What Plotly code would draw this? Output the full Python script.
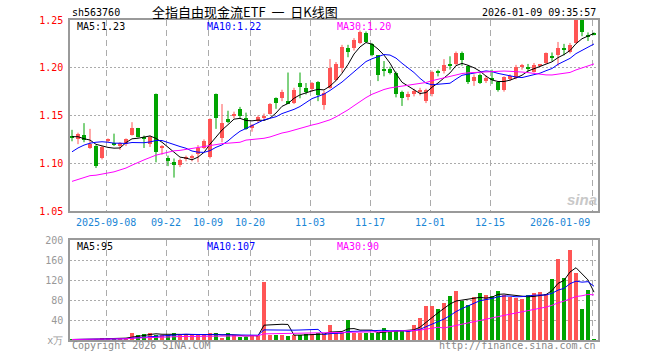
import numpy as np
import pandas as pd
import plotly.graph_objects as go

# ---------------- data ----------------
holidays = ["2025-10-01", "2025-10-02", "2025-10-03", "2025-10-06", "2025-10-07",
            "2025-10-08", "2026-01-01", "2026-01-02"]
dates = [d.strftime("%Y-%m-%d") for d in pd.bdate_range("2025-08-29", "2026-01-09")
         if d.strftime("%Y-%m-%d") not in holidays]

opens = [1.128, 1.125, 1.130, 1.116, 1.118, 1.106, 1.124, 1.121, 1.118, 1.120,
         1.130, 1.137, 1.128, 1.120, 1.173, 1.116, 1.106, 1.101, 1.098, 1.104,
         1.105, 1.110, 1.116, 1.107, 1.172, 1.126, 1.146, 1.149, 1.157, 1.147,
         1.137, 1.144, 1.147, 1.152, 1.168, 1.168, 1.165, 1.163, 1.184, 1.179,
         1.178, 1.185, 1.161, 1.179, 1.187, 1.200, 1.221, 1.221, 1.226, 1.236,
         1.225, 1.213, 1.198, 1.199, 1.195, 1.175, 1.169, 1.173, 1.175, 1.165,
         1.172, 1.197, 1.197, 1.203, 1.204, 1.215, 1.202, 1.186, 1.192, 1.187,
         1.189, 1.185, 1.177, 1.189, 1.189, 1.201, 1.201, 1.196, 1.202, 1.205,
         1.212, 1.213, 1.220, 1.216, 1.226, 1.250, 1.234, 1.236]
highs = [1.135, 1.132, 1.142, 1.136, 1.119, 1.118, 1.126, 1.131, 1.122, 1.126,
         1.143, 1.137, 1.129, 1.129, 1.173, 1.119, 1.108, 1.105, 1.105, 1.108,
         1.109, 1.119, 1.125, 1.147, 1.173, 1.162, 1.155, 1.154, 1.159, 1.153,
         1.141, 1.150, 1.152, 1.163, 1.169, 1.177, 1.195, 1.179, 1.195, 1.184,
         1.185, 1.186, 1.176, 1.209, 1.206, 1.224, 1.224, 1.231, 1.239, 1.238,
         1.226, 1.213, 1.207, 1.201, 1.196, 1.176, 1.175, 1.178, 1.179, 1.178,
         1.197, 1.198, 1.209, 1.212, 1.217, 1.217, 1.203, 1.193, 1.194, 1.192,
         1.198, 1.186, 1.191, 1.193, 1.203, 1.204, 1.204, 1.205, 1.204, 1.216,
         1.216, 1.227, 1.225, 1.226, 1.256, 1.252, 1.237, 1.237]
lows = [1.123, 1.120, 1.122, 1.115, 1.095, 1.104, 1.122, 1.118, 1.114, 1.118,
        1.129, 1.127, 1.116, 1.117, 1.101, 1.109, 1.097, 1.085, 1.096, 1.102,
        1.102, 1.101, 1.115, 1.105, 1.136, 1.122, 1.142, 1.147, 1.147, 1.135,
        1.133, 1.142, 1.145, 1.151, 1.157, 1.165, 1.162, 1.162, 1.168, 1.172,
        1.175, 1.165, 1.156, 1.178, 1.186, 1.195, 1.211, 1.218, 1.225, 1.226,
        1.212, 1.186, 1.191, 1.193, 1.169, 1.160, 1.166, 1.170, 1.171, 1.163,
        1.170, 1.191, 1.194, 1.198, 1.202, 1.202, 1.183, 1.181, 1.183, 1.184,
        1.183, 1.175, 1.175, 1.186, 1.188, 1.198, 1.196, 1.195, 1.201, 1.204,
        1.207, 1.202, 1.213, 1.215, 1.225, 1.233, 1.228, 1.234]
closes = [1.127, 1.131, 1.124, 1.120, 1.097, 1.117, 1.125, 1.120, 1.121, 1.125,
          1.137, 1.128, 1.125, 1.128, 1.112, 1.117, 1.102, 1.098, 1.103, 1.107,
          1.108, 1.116, 1.123, 1.146, 1.147, 1.142, 1.144, 1.152, 1.150, 1.136,
          1.140, 1.148, 1.150, 1.162, 1.163, 1.175, 1.163, 1.177, 1.180, 1.175,
          1.184, 1.171, 1.174, 1.200, 1.204, 1.222, 1.217, 1.229, 1.237, 1.227,
          1.213, 1.192, 1.197, 1.195, 1.172, 1.168, 1.173, 1.176, 1.176, 1.177,
          1.196, 1.195, 1.203, 1.202, 1.215, 1.208, 1.185, 1.190, 1.184, 1.189,
          1.188, 1.177, 1.190, 1.191, 1.201, 1.202, 1.199, 1.203, 1.203, 1.215,
          1.211, 1.221, 1.219, 1.224, 1.251, 1.237, 1.233, 1.235]
volumes = [1, 1, 1.5, 1, 1.5, 4.7, 4.7, 1.5, 4.7, 3,
           14.7, 10.7, 12, 14.7, 10, 10, 10, 14, 10, 10,
           10, 10, 10, 14, 14, 2.7, 13.3, 10, 6.7, 6.7,
           8, 10, 116.7, 10, 10.7, 10, 8, 10, 10, 12,
           12, 13.3, 12, 30, 14.7, 14.7, 40, 14.7, 14.7, 14.7,
           14.7, 13.3, 24, 18, 18, 18, 18, 30, 44, 68,
           68, 62, 74, 88, 98, 78.7, 70, 86, 94, 90,
           88, 98, 90, 86, 84, 82, 90, 94, 96, 92,
           122, 162, 124, 180, 134.7, 62, 100, 2]

ma5_lead = [1.1278, 1.1278, 1.1257, 1.1243]
ma10_lead = [1.112, 1.116, 1.119, 1.121, 1.122, 1.1225, 1.122, 1.121, 1.121]
ma30_lead = [1.081, 1.083, 1.085, 1.087, 1.0875, 1.0885, 1.0895, 1.091, 1.093, 1.095,
             1.098, 1.101, 1.1035, 1.106, 1.1085, 1.110, 1.1115, 1.113, 1.1135, 1.1145,
             1.1155, 1.1165, 1.1175, 1.119, 1.120, 1.1205, 1.121, 1.1215, 1.122]

tick_dates = ["2025-09-08", "2025-09-22", "2025-10-09", "2025-10-20", "2025-11-03",
              "2025-11-17", "2025-12-01", "2025-12-15", "2026-01-09"]
tick_labels = ["2025-09-08", "09-22", "10-09", "10-20", "11-03", "11-17",
               "12-01", "12-15", "2026-01-09"]
price_ticks = [1.05, 1.10, 1.15, 1.20, 1.25]
vol_ticks = [0, 40, 80, 120, 160, 200]
vol_tick_labels = ["x万", "40", "80", "120", "160", "200"]

header_code = "sh563760"
header_title = "全指自由现金流ETF 一 日K线图"
header_time = "2026-01-09 09:35:57"
price_ma_labels = ["MA5:1.23", "MA10:1.22", "MA30:1.20"]
vol_ma_labels = ["MA5:95", "MA10:107", "MA30:90"]

# ---------------- styles ----------------
RED = "#ff5555"
GREEN = "#00a400"
MA_COLORS = ["#000000", "#0000ff", "#ff00ff"]
MONO = "DejaVu Sans Mono"
W, H = 660, 360
L, R, T, B = 70, 62, 20, 20
PW, PH = W - L - R, H - T - B


def px(xp):
    return (xp - L) / PW


def py(yp):
    return (H - B - yp) / PH


n = len(dates)
x = np.arange(n)
o = np.array(opens); c = np.array(closes); hi = np.array(highs); lo = np.array(lows)
up = c >= o
colors = [RED if u else GREEN for u in up]

cs = pd.Series(closes)
ma5 = cs.rolling(5).mean().to_numpy(); ma5[:4] = ma5_lead
ma10 = cs.rolling(10).mean().to_numpy(); ma10[:9] = ma10_lead
ma30 = cs.rolling(30).mean().to_numpy(); ma30[:29] = ma30_lead

vs = pd.Series(volumes)
vma = [vs.rolling(k, min_periods=1).mean().to_numpy() for k in (5, 10, 30)]

fig = go.Figure()

# candle bodies
body_base = np.minimum(o, c)
body_h = np.maximum(np.abs(c - o), 0.0011)
fig.add_trace(go.Bar(x=x, y=body_h, base=body_base, width=0.8,
                     marker=dict(color=colors, line=dict(width=0)),
                     xaxis="x", yaxis="y", hoverinfo="skip"))
# wicks
for flag, col in ((True, RED), (False, GREEN)):
    wx, wy = [], []
    for i in range(n):
        if up[i] == flag:
            wx += [x[i], x[i], None]
            wy += [lo[i], hi[i], None]
    fig.add_trace(go.Scatter(x=wx, y=wy, mode="lines", line=dict(color=col, width=1),
                             xaxis="x", yaxis="y", hoverinfo="skip"))
# price MAs
for arr, col in zip((ma5, ma10, ma30), MA_COLORS):
    fig.add_trace(go.Scatter(x=x, y=arr, mode="lines", line=dict(color=col, width=1),
                             xaxis="x", yaxis="y", hoverinfo="skip"))

# volume
fig.add_trace(go.Bar(x=x, y=volumes, width=0.78,
                     marker=dict(color=colors, line=dict(width=0)),
                     xaxis="x2", yaxis="y2", hoverinfo="skip"))
for arr, col in zip(vma, MA_COLORS):
    fig.add_trace(go.Scatter(x=x, y=arr, mode="lines", line=dict(color=col, width=1),
                             xaxis="x2", yaxis="y2", hoverinfo="skip"))

grid_pos = [dates.index(d) - 0.27 for d in tick_dates]
xr = [-1 / 3, n - 1 / 3]

axis_common = dict(showline=True, mirror=True, linecolor="#9a9a9a", linewidth=1.5,
                   zeroline=False, ticks="")
fig.update_layout(
    width=W, height=H, margin=dict(l=L, r=R, t=T, b=B),
    paper_bgcolor="white", plot_bgcolor="white", showlegend=False, bargap=0,
    xaxis=dict(domain=[0, 1], anchor="y", range=xr, tickvals=grid_pos,
               showticklabels=False, showgrid=True, gridcolor="#ababab",
               griddash="6px,4px", gridwidth=1, **axis_common),
    yaxis=dict(domain=[py(211), 1], range=[1.05, 1.25], tickvals=price_ticks,
               ticktext=[f"{v:.2f}" for v in price_ticks],
               tickfont=dict(family=MONO, size=10, color="#ff0000"),
               showgrid=True, gridcolor="#ababab", griddash="2px,2px", gridwidth=1,
               ticklabelstandoff=3, **axis_common),
    xaxis2=dict(domain=[0, 1], anchor="y2", range=xr, matches="x", tickvals=grid_pos,
                showticklabels=False, showgrid=True, gridcolor="#ababab",
                griddash="6px,4px", gridwidth=1, **axis_common),
    yaxis2=dict(domain=[0, py(240)], range=[0, 200], tickvals=vol_ticks,
                ticktext=vol_tick_labels,
                tickfont=dict(family=MONO, size=10, color="#999999"),
                showgrid=True, gridcolor="#ababab", griddash="2px,2px", gridwidth=1,
                ticklabelstandoff=3, **axis_common),
)

ann = []


def text(s, xp, yp, color="#000000", anchor="left", size=10, family=MONO, **kw):
    ann.append(dict(text=s, x=px(xp), y=py(yp), xref="paper", yref="paper",
                    xanchor=anchor, yanchor="middle", showarrow=False,
                    font=dict(family=family, size=size, color=color), **kw))


text(header_code, 70, 12.5)
text(header_title.replace(" ", "  "), 150, 11, size=13, family="Noto Sans CJK SC")
text(header_time, 598, 12.5, anchor="right")
for s, xp, col in zip(price_ma_labels, (75, 205, 335), MA_COLORS):
    text(s, xp, 26.5, color=col)
for s, xp, col in zip(vol_ma_labels, (75, 205, 335), MA_COLORS):
    text(s, xp, 246.5, color=col)
text("Copyright 2026 SINA.COM", 70, 345.5, color="#888888")
text("http://finance.sina.com.cn", 598, 345.5, color="#888888", anchor="right")
text("<b><i>sina</i></b>", 582, 199, color="#c8c8c8", anchor="center", size=15,
     family="Arial, Liberation Sans")

for k, (gp, lab) in enumerate(zip(grid_pos, tick_labels)):
    ann.append(dict(text=lab, x=gp, y=py(222), xref="x", yref="paper",
                    xanchor="right" if k == len(tick_labels) - 1 else "center",
                    yanchor="middle", showarrow=False,
                    font=dict(family=MONO, size=10, color="#1a86d6")))

fig.update_layout(annotations=ann)
fig.write_html("out.html")
